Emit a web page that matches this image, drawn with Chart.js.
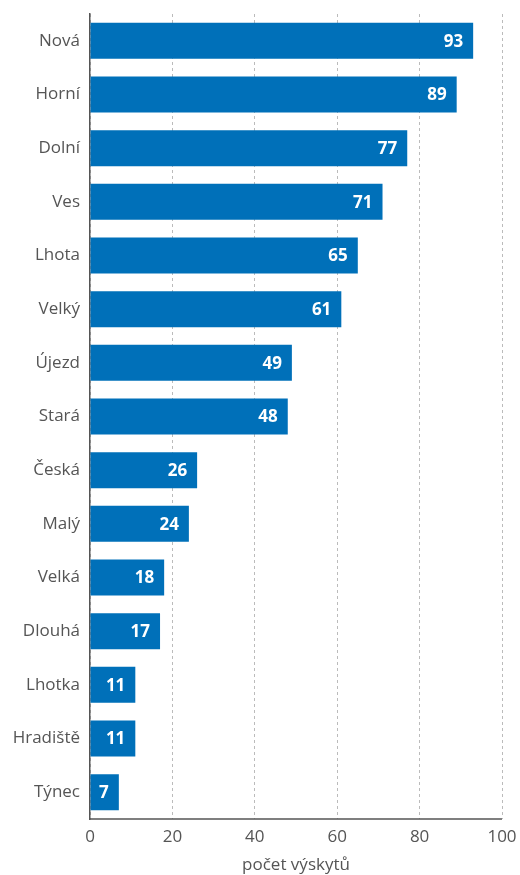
<!DOCTYPE html>
<html>
<head>
<meta charset="utf-8">
<script src="https://cdn.jsdelivr.net/npm/chart.js@4.4.1/dist/chart.umd.min.js"></script>
<style>
  html, body { margin: 0; padding: 0; background: #fff; }
  #wrap { width: 520px; height: 875px; }
</style>
</head>
<body>
<div id="wrap"><canvas id="myChart"></canvas></div>
<script>
var labels = ['Nová', 'Horní', 'Dolní', 'Ves', 'Lhota', 'Velký', 'Újezd', 'Stará', 'Česká', 'Malý', 'Velká', 'Dlouhá', 'Lhotka', 'Hradiště', 'Týnec'];
var counts = [93, 89, 77, 71, 65, 61, 49, 48, 26, 24, 18, 17, 11, 11, 7];
var axisTitle = 'počet výskytů';

var fontFamily = '"Open Sans", "Noto Sans", sans-serif';
var textColor = '#555555';

// white value labels inside the bar end + solid bottom axis line
var valueLabels = {
    id: 'valueLabels',
    afterDatasetsDraw: function(chart) {
        var ctx = chart.ctx;
        var meta = chart.getDatasetMeta(0);
        var area = chart.chartArea;
        ctx.save();
        ctx.strokeStyle = '#555555';
        ctx.lineWidth = 1.5;
        ctx.beginPath();
        ctx.moveTo(area.left, area.bottom);
        ctx.lineTo(area.right, area.bottom);
        ctx.stroke();

        ctx.fillStyle = '#ffffff';
        ctx.font = 'bold 17px ' + fontFamily;
        ctx.textAlign = 'right';
        ctx.textBaseline = 'middle';
        meta.data.forEach(function(bar, i) {
            ctx.fillText(String(counts[i]), bar.x - 10, bar.y + 1);
        });
        ctx.restore();
    }
};

var ctx = document.getElementById('myChart').getContext('2d');
var myChart = new Chart(ctx, {
    type: 'bar',
    data: {
        labels: labels,
        datasets: [{
            data: counts,
            backgroundColor: '#0070b9',
            barPercentage: 0.67,
            categoryPercentage: 1
        }]
    },
    options: {
        indexAxis: 'y',
        responsive: true,
        maintainAspectRatio: false,
        animation: false,
        layout: { padding: { top: 14, right: 18, left: 0, bottom: 0 } },
        plugins: {
            legend: { display: false },
            tooltip: { enabled: false }
        },
        scales: {
            x: {
                min: 0,
                max: 100,
                afterFit: function(scale) {
                    scale.height = 56;
                    scale.paddingLeft = 0;
                    scale.paddingRight = 0;
                },
                ticks: {
                    stepSize: 20,
                    color: textColor,
                    font: { family: fontFamily, size: 17 },
                    padding: 8
                },
                grid: {
                    color: '#bbbbbb',
                    drawTicks: false
                },
                border: { display: false, dash: [3, 3] },
                title: {
                    display: true,
                    text: axisTitle,
                    color: textColor,
                    font: { family: fontFamily, size: 17 },
                    padding: { top: 0, bottom: 0 }
                }
            },
            y: {
                afterFit: function(scale) {
                    scale.width = 90;
                    scale.paddingTop = 0;
                    scale.paddingBottom = 0;
                },
                ticks: {
                    color: textColor,
                    font: { family: fontFamily, size: 17 },
                    padding: 10
                },
                grid: { display: false, drawTicks: false },
                border: { display: true, color: '#555555', width: 1.5 }
            }
        }
    },
    plugins: [valueLabels]
});
</script>
</body>
</html>
